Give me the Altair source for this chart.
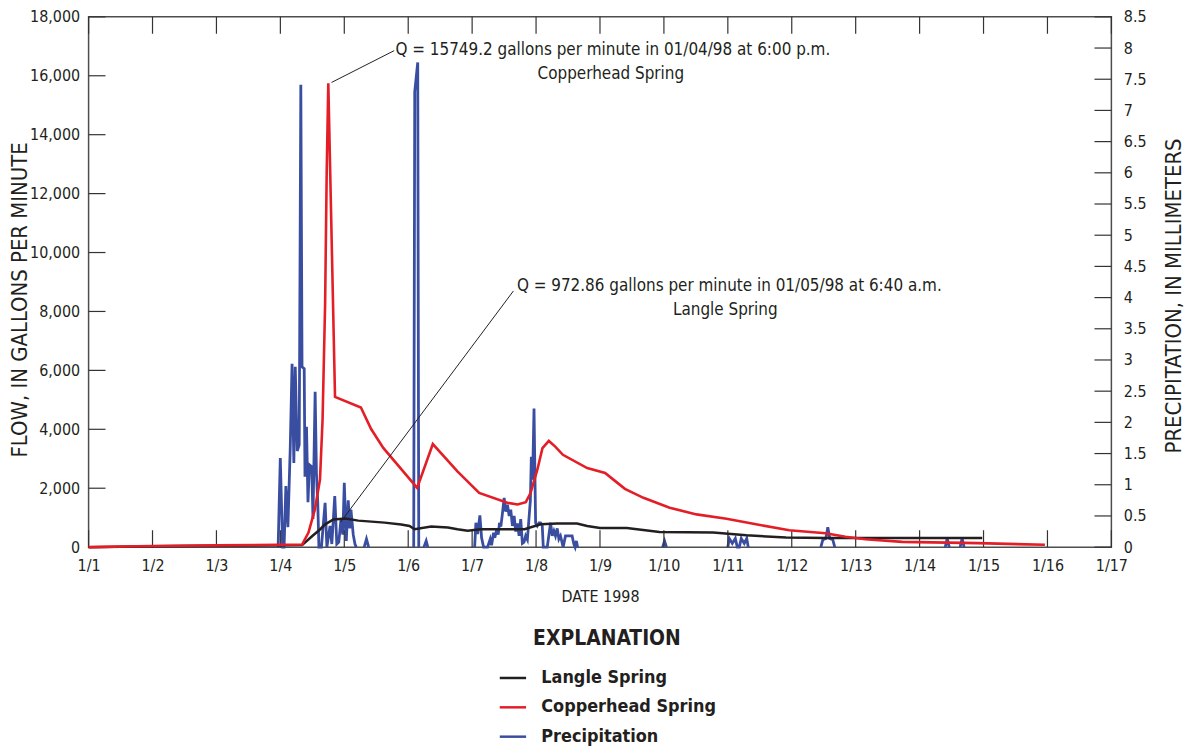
import altair as alt
import pandas as pd

FONT = "Liberation Sans Narrow, Arial Narrow, DejaVu Sans Condensed, sans-serif"
INK = "#231f20"

# ---------------- data (days since 1/1/1998) ----------------
series_names = ["Langle Spring", "Copperhead Spring", "Precipitation"]
series_colors = ["#231f20", "#e41e26", "#3a4ea1"]

langle_days = [0, 1, 2, 3, 3.34, 3.5, 3.62, 3.70, 3.83, 4.02, 4.22, 4.63, 4.89, 5.02, 5.10,
               5.36, 5.62, 5.77, 5.93, 6.13, 6.82, 7.07, 7.33, 7.64, 7.80, 8.0, 8.42, 8.93,
               9.77, 10.29, 10.91, 11.53, 13.98]
langle_flow = [0, 30, 50, 60, 70, 380, 600, 775, 940, 972.86, 900, 832, 765, 720, 607,
               698, 664, 607, 560, 607, 610, 775, 800, 800, 718, 650, 650, 516,
               495, 404, 327, 313, 310]

copper_days = [0, 1, 2, 3, 3.34, 3.44, 3.54, 3.62, 3.66, 3.70, 3.725, 3.75, 3.855, 4.26,
               4.42, 4.61, 5.14, 5.385, 5.77, 6.11, 6.55, 6.71, 6.84, 6.915, 7.02, 7.10,
               7.20, 7.30, 7.42, 7.80, 8.08, 8.21, 8.39, 8.68, 9.09, 9.51, 9.98, 10.44,
               10.96, 11.53, 11.84, 12.15, 12.73, 13.91, 14.96]
copper_flow = [0, 40, 60, 80, 90, 495, 1281, 2292, 4314, 8257, 12740, 15749.2, 5100, 4740,
               4010, 3370, 2010, 3500, 2570, 1843, 1506, 1449, 1527, 1843, 2629, 3360,
               3606, 3414, 3134, 2686, 2517, 2292, 1978, 1675, 1338, 1112, 967, 775,
               573, 472, 350, 270, 180, 135, 80]

precip_days = [
    # burst 1
    2.965, 2.999, 3.035, 3.058, 3.086, 3.118, 3.155, 3.183, 3.211, 3.233, 3.264, 3.295,
    3.320, 3.339, 3.373, 3.385, 3.409, 3.432, 3.455, 3.491, 3.510, 3.544, 3.564, 3.585,
    3.603, 3.642, 3.700, 3.728, 3.777, 3.805, 3.851, 3.883, 3.914, 3.949, 3.977, 4.000,
    4.031, 4.062, 4.086, 4.104, 4.140, 4.167, 4.187,
    # small
    4.311, 4.347, 4.381,
    # spike 1/6
    5.086, 5.102, 5.149, 5.165,
    # small
    5.245, 5.281, 5.307,
    # burst 1/7 - 1/8
    6.039, 6.059, 6.086, 6.121, 6.148, 6.179, 6.241, 6.283, 6.304, 6.335,
    6.355, 6.386, 6.408, 6.428, 6.449, 6.475, 6.501, 6.526, 6.553, 6.579,
    6.604, 6.630, 6.657, 6.682, 6.708, 6.735, 6.760, 6.786, 6.812, 6.837,
    6.864, 6.890, 6.911, 6.926, 6.946, 6.968, 6.993, 7.019, 7.046, 7.071,
    7.097, 7.113, 7.175, 7.227, 7.253, 7.279, 7.304, 7.331, 7.357, 7.382,
    7.424, 7.460, 7.564, 7.591, 7.611, 7.631, 7.650,
    # later showers
    8.98, 9.01, 9.04,
    10.0, 10.023, 10.070, 10.117, 10.148, 10.179, 10.210, 10.257, 10.296, 10.319,
    11.455, 11.486, 11.533, 11.564, 11.595, 11.642, 11.673,
    13.401, 13.432, 13.463,
    13.634, 13.665, 13.696,
]
precip_mm = [
    0, 1.43, 0, 0, 0.98, 0.32, 1.61, 2.94, 1.35, 2.89, 1.54, 1.64,
    7.41, 2.89, 2.86, 1.13, 1.93, 0.72, 1.32, 1.29, 0.45, 2.49, 1.2, 0.71,
    0, 0, 0.71, 0, 0.34, 0.05, 0.82, 0.05, 0.08, 0.45, 0.2, 1.03,
    0.1, 0.75, 0.3, 0.6, 0.2, 0.05, 0,
    0, 0.13, 0,
    0, 7.3, 7.77, 0,
    0, 0.1, 0,
    0, 0.39, 0.21, 0.51, 0.15, 0, 0, 0.13, 0.03, 0.23,
    0.15, 0.29, 0.2, 0.39, 0.33, 0.55, 0.79, 0.57, 0.68, 0.5,
    0.6, 0.34, 0.5, 0.25, 0.38, 0.18, 0.45, 0.06, 0.08, 0.18,
    0.12, 0.47, 0.75, 1.45, 1.08, 2.22, 0.39, 0.34, 0.39, 0.39,
    0.34, 0, 0, 0.39, 0.18, 0.26, 0.18, 0.3, 0.13, 0.18,
    0, 0.18, 0.18, 0.05, 0, 0.1, 0,
    0, 0.1, 0,
    0, 0.14, 0.06, 0.14, 0, 0, 0.14, 0.06, 0.14, 0,
    0, 0.12, 0.14, 0.32, 0.14, 0.12, 0,
    0, 0.14, 0,
    0, 0.14, 0,
]
precip_segment = ([1] * 43 + [2] * 3 + [3] * 4 + [4] * 3 + [5] * 57 + [6] * 3 + [7] * 10
                  + [8] * 7 + [9] * 3 + [10] * 3)

day_ticks = list(range(0, 17))
flow_ticks = list(range(0, 18001, 2000))
precip_ticks = [i * 0.5 for i in range(0, 18)]

# annotations (data units)
ann_text = ["Q = 15749.2 gallons per minute in 01/04/98 at 6:00 p.m.",
            "Copperhead Spring",
            "Q = 972.86 gallons per minute in 01/05/98 at 6:40 a.m.",
            "Langle Spring"]
ann_day = [4.80, 8.17, 6.70, 9.96]
ann_flow = [16886, 16043, 8864, 8055]

leader_day0 = [3.80, 3.94]
leader_flow0 = [15773, 843]
leader_day1 = [4.78, 6.646]
leader_flow1 = [16852, 8696]

# ---------------- frames ----------------
langle_df = pd.DataFrame({"day": langle_days, "flow": langle_flow, "series": series_names[0]})
copper_df = pd.DataFrame({"day": copper_days, "flow": copper_flow, "series": series_names[1]})
precip_df = pd.DataFrame({"day": precip_days, "mm": precip_mm, "seg": precip_segment,
                          "series": series_names[2]})
day_tick_df = pd.DataFrame({"day": day_ticks})
flow_tick_df = pd.DataFrame({"flow": flow_ticks})
precip_tick_df = pd.DataFrame({"mm": precip_ticks})
left_ann = pd.DataFrame({"day": [ann_day[i] for i in (0, 2)], "flow": [ann_flow[i] for i in (0, 2)],
                         "label": [ann_text[i] for i in (0, 2)]})
center_ann = pd.DataFrame({"day": [ann_day[i] for i in (1, 3)], "flow": [ann_flow[i] for i in (1, 3)],
                           "label": [ann_text[i] for i in (1, 3)]})
leader_df = pd.DataFrame({"d0": leader_day0, "f0": leader_flow0, "d1": leader_day1, "f1": leader_flow1})

W, H = 1028, 533

x_scale = alt.Scale(domain=[0, 16], nice=False, zero=False)
flow_scale = alt.Scale(domain=[0, 18000], nice=False)
precip_scale = alt.Scale(domain=[0, 8.5], nice=False)
color_scale = alt.Scale(domain=series_names, range=series_colors)

x_axis = alt.Axis(values=day_ticks, labelExpr="'1/' + (datum.value + 1)", ticks=False,
                  domain=False, grid=False, labelPadding=10, labelFontSize=16,
                  labelFlush=False, labelOverlap=False,
                  title="DATE 1998", titleFontSize=16, titleFontWeight="normal",
                  titleBaseline="middle", titleY=50)
flow_axis = alt.Axis(orient="left", values=flow_ticks, format=",d", ticks=False, domain=False,
                     grid=False, labelPadding=9, labelFontSize=16, labelFlush=False,
                     labelOverlap=False,
                     title="FLOW, IN GALLONS PER MINUTE", titleFontSize=22,
                     titleFontWeight="normal", titleAngle=270, titleAlign="center",
                     titleBaseline="middle", titleX=-69, titleY=284)
precip_axis = alt.Axis(orient="right", values=precip_ticks, format="~g", ticks=False,
                       domain=False, grid=False, labelPadding=12, labelFontSize=16,
                       labelFlush=False, labelOverlap=False,
                       title="PRECIPITATION, IN MILLIMETERS", titleFontSize=22,
                       titleFontWeight="normal", titleAngle=270, titleAlign="center",
                       titleBaseline="middle", titleX=62, titleY=280)


def X(field):
    return alt.X(f"{field}:Q", scale=x_scale, axis=x_axis)


def YF(field):
    return alt.Y(f"{field}:Q", scale=flow_scale, axis=flow_axis)


def YP(field):
    return alt.Y(f"{field}:Q", scale=precip_scale, axis=precip_axis)


legend = alt.Legend(orient="none", legendX=412, legendY=614, title="EXPLANATION",
                    titleFontSize=21, titleFontWeight="bold", titleAnchor="middle",
                    titlePadding=15, symbolType="stroke", symbolSize=700,
                    symbolStrokeWidth=2.5, labelFontSize=18, labelFontWeight="bold",
                    labelOffset=14, rowPadding=5.5, labelLimit=400,
                    labelColor=INK, titleColor=INK)
color = alt.Color("series:N", scale=color_scale, legend=legend)

# precipitation group (right axis)
precip_line = alt.Chart(precip_df).mark_line(strokeWidth=2.8).encode(
    x=X("day"), y=YP("mm"), detail="seg:N", color=color, order="day:Q")
right_ticks = alt.Chart(precip_tick_df).mark_rule(color="#333", strokeWidth=1.2).encode(
    y=YP("mm"), x=alt.value(W - 17), x2=alt.value(W))
precip_group = alt.layer(precip_line, right_ticks)

# flow group (left axis)
langle_line = alt.Chart(langle_df).mark_line(strokeWidth=2.5).encode(
    x=X("day"), y=YF("flow"), color=color)
copper_line = alt.Chart(copper_df).mark_line(strokeWidth=2.6).encode(
    x=X("day"), y=YF("flow"), color=color)
bottom_ticks = alt.Chart(day_tick_df).mark_rule(color="#333", strokeWidth=1.2).encode(
    x=X("day"), y=alt.value(H), y2=alt.value(H - 17))
top_ticks = alt.Chart(day_tick_df).mark_rule(color="#333", strokeWidth=1.2).encode(
    x=X("day"), y=alt.value(0), y2=alt.value(17))
left_ticks = alt.Chart(flow_tick_df).mark_rule(color="#333", strokeWidth=1.2).encode(
    y=YF("flow"), x=alt.value(0), x2=alt.value(17))
leaders = alt.Chart(leader_df).mark_rule(color=INK, strokeWidth=1).encode(
    x=X("d0"), x2="d1:Q", y=YF("f0"), y2="f1:Q")
text_left = alt.Chart(left_ann).mark_text(align="left", baseline="middle", font=FONT,
                                          fontSize=17, color=INK).encode(
    x=X("day"), y=YF("flow"), text="label:N")
text_center = alt.Chart(center_ann).mark_text(align="center", baseline="middle", font=FONT,
                                              fontSize=17, color=INK).encode(
    x=X("day"), y=YF("flow"), text="label:N")
flow_group = alt.layer(bottom_ticks, top_ticks, left_ticks, langle_line, copper_line,
                       leaders, text_left, text_center)

chart = alt.layer(precip_group, flow_group).resolve_scale(y="independent").properties(
    width=W, height=H,
    autosize=alt.AutoSizeParams(type="none"),
    padding={"left": 81, "top": 7, "right": 75, "bottom": 202},
).configure_view(stroke="#4d4d4d", strokeWidth=1.5).configure_axis(
    labelFont=FONT, titleFont=FONT, labelColor=INK, titleColor=INK
).configure_legend(labelFont=FONT, titleFont=FONT)

chart.save("out.html", embed_options={"renderer": "svg", "actions": False})
